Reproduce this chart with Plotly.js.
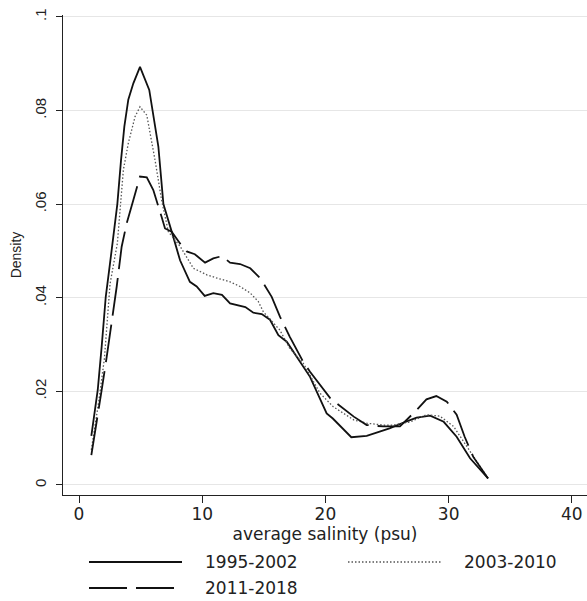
<!DOCTYPE html>
<html>
<head>
<meta charset="utf-8">
<script src="https://cdn.plot.ly/plotly-3.0.1.min.js"></script>
<style>html,body{margin:0;padding:0;background:#fff;}#chart{width:587px;height:601px;}</style>
</head>
<body>
<div id="chart"></div>
<script>
// Series names
const seriesNames = ["1995-2002", "2003-2010", "2011-2018"];

// 1995-2002 (solid)
const x1995 = [1.0, 1.52, 1.84, 2.17, 2.5, 2.87, 3.11, 3.41, 3.68, 4.0, 4.41, 4.95, 5.7, 6.44, 6.85, 7.65, 8.2, 9.0, 9.55, 10.2, 10.9, 11.6, 12.26, 13.5, 14.15, 14.83, 15.5, 16.18, 16.86, 17.67, 18.75, 20.1, 20.6, 22.1, 23.35, 24.4, 25.2, 26.5, 27.4, 28.5, 29.6, 30.65, 31.74, 33.2];
const y1995 = [0.0105, 0.0203, 0.0296, 0.0402, 0.047, 0.055, 0.060, 0.0694, 0.0766, 0.0823, 0.0858, 0.0893, 0.0844, 0.0723, 0.060, 0.053, 0.048, 0.0434, 0.0424, 0.0404, 0.041, 0.0406, 0.0388, 0.038, 0.0368, 0.0365, 0.0353, 0.032, 0.0306, 0.0274, 0.0231, 0.0153, 0.0142, 0.0102, 0.0105, 0.0114, 0.0121, 0.0135, 0.0144, 0.0148, 0.0135, 0.0103, 0.0057, 0.0014];

// 2003-2010 (dotted)
const x2003 = [1.0, 1.16, 1.62, 2.06, 2.52, 3.11, 3.33, 3.6, 4.0, 4.55, 4.95, 5.5, 6.17, 6.7, 7.25, 8.2, 9.28, 10.37, 11.2, 12.26, 13.07, 13.9, 14.55, 14.96, 16.3, 17.1, 18.2, 19.56, 20.64, 22.3, 23.35, 24.7, 25.5, 26.9, 28.2, 29.3, 30.4, 31.5, 33.1];
const y2003 = [0.0075, 0.0103, 0.0182, 0.027, 0.043, 0.0516, 0.0588, 0.0673, 0.073, 0.0787, 0.0808, 0.079, 0.0694, 0.0609, 0.0541, 0.051, 0.0463, 0.0449, 0.0442, 0.0434, 0.0424, 0.041, 0.0392, 0.037, 0.0331, 0.0292, 0.026, 0.0196, 0.0167, 0.0139, 0.0132, 0.0128, 0.0128, 0.0135, 0.015, 0.0147, 0.0125, 0.0082, 0.0018];

// 2011-2018 (long dash)
const x2011 = [1.0, 1.44, 1.84, 2.25, 2.65, 3.06, 3.46, 3.87, 4.41, 4.95, 5.5, 6.03, 6.7, 6.98, 7.52, 8.2, 8.74, 9.4, 10.23, 10.9, 11.6, 12.26, 13.07, 13.9, 14.7, 15.64, 16.3, 17.1, 18.2, 18.75, 20.4, 22.3, 23.35, 24.7, 26.05, 26.6, 27.4, 28.2, 29.0, 29.85, 30.65, 31.3, 32.0, 33.2];
const y2011 = [0.0064, 0.0132, 0.0203, 0.0274, 0.0345, 0.0424, 0.0509, 0.0559, 0.0609, 0.0659, 0.0657, 0.063, 0.0573, 0.0548, 0.0541, 0.0516, 0.0499, 0.0493, 0.0475, 0.0484, 0.0489, 0.0475, 0.0472, 0.0463, 0.0442, 0.0402, 0.036, 0.0317, 0.0263, 0.0242, 0.0185, 0.0146, 0.0128, 0.0125, 0.0125, 0.0139, 0.016, 0.0183, 0.019, 0.0178, 0.015, 0.0103, 0.006, 0.0014];

// Axis ticks
const xTickVals = [0, 10, 20, 30, 40];
const xTickText = ["0", "10", "20", "30", "40"];
const yTickVals = [0, 0.02, 0.04, 0.06, 0.08, 0.1];
const yTickText = ["0", ".02", ".04", ".06", ".08", ".1"];

const xTitle = "average salinity (psu)";
const yTitle = "Density";

const wideFont = "DejaVu Sans, sans-serif";
const narrowFont = "Liberation Sans, Arial, sans-serif";
const DASH = "38px,9px";
const DOT = "1.5px,2px";

const traces = [
  {x: x1995, y: y1995, name: seriesNames[0], mode: "lines", showlegend: false,
   line: {color: "#111", width: 1.8}},
  {x: x2003, y: y2003, name: seriesNames[1], mode: "lines", showlegend: false,
   line: {color: "#555", width: 1.3, dash: DOT}},
  {x: x2011, y: y2011, name: seriesNames[2], mode: "lines", showlegend: false,
   line: {color: "#111", width: 1.8, dash: DASH}}
];

// manual legend (paper coords)
const W = 524, H = 480, L = 63, B = 495;
const px = v => (v - L) / W;
const py = v => (B - v) / H;
const legendRows = [
  {x0: 89, x1: 182, y: 562, lbl: 203, color: "#111", width: 1.8, dash: "solid", name: seriesNames[0]},
  {x0: 348, x1: 442, y: 562, lbl: 462, color: "#555", width: 1.3, dash: DOT, name: seriesNames[1]},
  {x0: 89, x1: 175, y: 588, lbl: 203, color: "#111", width: 1.8, dash: DASH, name: seriesNames[2]}
];
const shapes = legendRows.map(r => ({
  type: "line", xref: "paper", yref: "paper",
  x0: px(r.x0), x1: px(r.x1), y0: py(r.y), y1: py(r.y),
  line: {color: r.color, width: r.width, dash: r.dash}
}));
const annotations = legendRows.map(r => ({
  xref: "paper", yref: "paper", x: px(r.lbl), y: py(r.y),
  xanchor: "left", yanchor: "middle", showarrow: false,
  text: r.name, font: {family: wideFont, size: 17, color: "#222"}
}));

const layout = {
  width: 587, height: 601,
  margin: {l: 63, r: 0, t: 15, b: 106},
  paper_bgcolor: "#fff", plot_bgcolor: "#fff",
  showlegend: false,
  xaxis: {
    range: [-1.3, 41.23], tickvals: xTickVals, ticktext: xTickText,
    showgrid: false, zeroline: false, showline: true, linecolor: "#222", linewidth: 1,
    ticks: "outside", ticklen: 7, tickcolor: "#222", ticklabelstandoff: -3,
    tickfont: {family: wideFont, size: 17, color: "#222"},
    title: {text: xTitle, font: {family: wideFont, size: 17, color: "#222"}, standoff: 0}
  },
  yaxis: {
    range: [-0.00214, 0.1004], tickvals: yTickVals, ticktext: yTickText,
    tickangle: -90,
    showgrid: true, gridcolor: "#e6e6e6", gridwidth: 1,
    zeroline: false, showline: true, linecolor: "#222", linewidth: 1,
    ticks: "outside", ticklen: 6, tickcolor: "#222", ticklabelstandoff: 4,
    tickfont: {family: narrowFont, size: 15, color: "#222"},
    title: {text: yTitle, font: {family: narrowFont, size: 14, color: "#222"}, standoff: 7}
  },
  shapes: shapes,
  annotations: annotations
};

Plotly.newPlot("chart", traces, layout, {displayModeBar: false, staticPlot: true});
</script>
</body>
</html>
